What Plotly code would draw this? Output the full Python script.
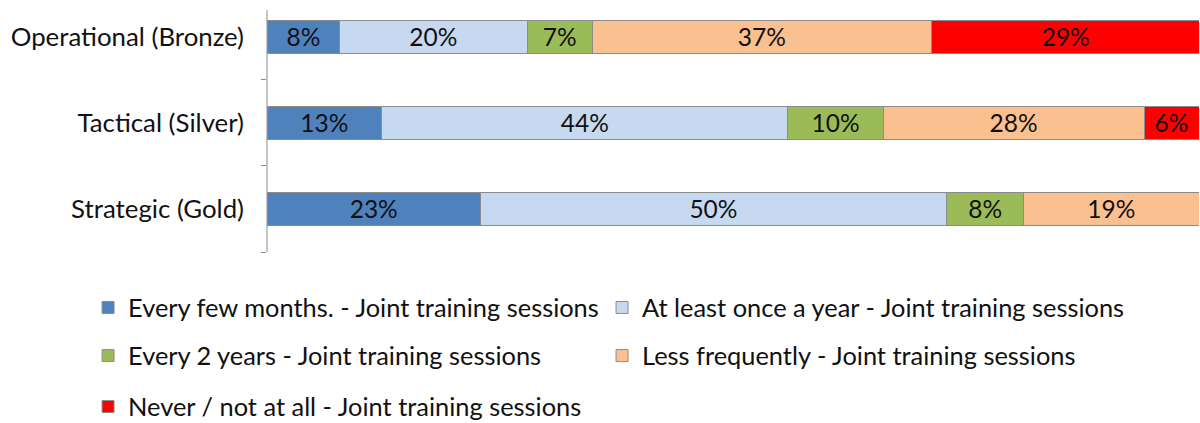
import plotly.graph_objects as go

categories = ["Strategic (Gold)", "Tactical (Silver)", "Operational (Bronze)"]

series_names = [
    "Every few months. - Joint training sessions",
    "At least once a year - Joint training sessions",
    "Every 2 years - Joint training sessions",
    "Less frequently - Joint training sessions",
    "Never / not at all - Joint training sessions",
]

# values (percent) per category in order Strategic, Tactical, Operational
every_few_months = [22.9, 12.3, 7.8]
at_least_once_year = [50.0, 43.6, 20.1]
every_2_years = [8.3, 10.2, 7.0]
less_frequently = [18.8, 28.0, 36.4]
never = [0, 5.9, 28.8]

# displayed labels
lbl_every_few_months = ["23%", "13%", "8%"]
lbl_at_least_once_year = ["50%", "44%", "20%"]
lbl_every_2_years = ["8%", "10%", "7%"]
lbl_less_frequently = ["19%", "28%", "37%"]
lbl_never = ["", "6%", "29%"]

colors = ["#4F81BD", "#C6D9F1", "#9BBB59", "#FAC090", "#FF0000"]

values = [every_few_months, at_least_once_year, every_2_years, less_frequently, never]
labels = [lbl_every_few_months, lbl_at_least_once_year, lbl_every_2_years,
          lbl_less_frequently, lbl_never]
legend_ids = ["legend", "legend", "legend2", "legend2", "legend3"]
legend_widths = [469, 530, 469, 530, 469]

FONT = "Lato"
fig = go.Figure()
for name, vals, lbls, col, lg, lw in zip(series_names, values, labels, colors,
                                         legend_ids, legend_widths):
    fig.add_trace(go.Bar(
        y=categories, x=vals, name=name, orientation="h",
        text=lbls, textposition="inside", insidetextanchor="middle",
        constraintext="none",
        textfont=dict(family=FONT, size=24.5, color="#111111"),
        marker=dict(color=col, line=dict(color="#8C8C8C", width=1)),
        legend=lg, legendwidth=lw, hoverinfo="skip",
    ))

leg_common = dict(orientation="h", xanchor="left", yanchor="middle",
                  entrywidthmode="pixels", entrywidth=469,
                  font=dict(family=FONT, size=25.4, color="#111111"),
                  bgcolor="rgba(0,0,0,0)", traceorder="normal")

fig.update_layout(
    width=1200, height=423,
    barmode="stack", bargap=0.605,
    plot_bgcolor="white", paper_bgcolor="white",
    margin=dict(l=267, r=1, t=0, b=171, autoexpand=False),
    font=dict(family=FONT, size=20, color="#111111"),
    xaxis=dict(range=[0, 100], visible=False, fixedrange=True, automargin=False),
    yaxis=dict(type="category", range=[-0.5, 2.43], showline=False,
               ticks="outside", tickson="boundaries", ticklen=5,
               tickcolor="#8C8C8C", showgrid=False, zeroline=False,
               ticklabelstandoff=22, automargin=False, fixedrange=True,
               tickfont=dict(family=FONT, size=25.8, color="#111111")),
    legend=dict(x=-0.192, y=-0.222, **leg_common),
    legend2=dict(x=-0.192, y=-0.413, **leg_common),
    legend3=dict(x=-0.192, y=-0.615, **leg_common),
    showlegend=True,
    shapes=[dict(type="line", xref="paper", yref="paper", x0=0, x1=0,
                 y0=0, y1=0.96, line=dict(color="#8C8C8C", width=1),
                 layer="below")],
)

fig.write_html("out.html",
               config={"displayModeBar": False},
               post_script="document.body.style.margin='0';")
